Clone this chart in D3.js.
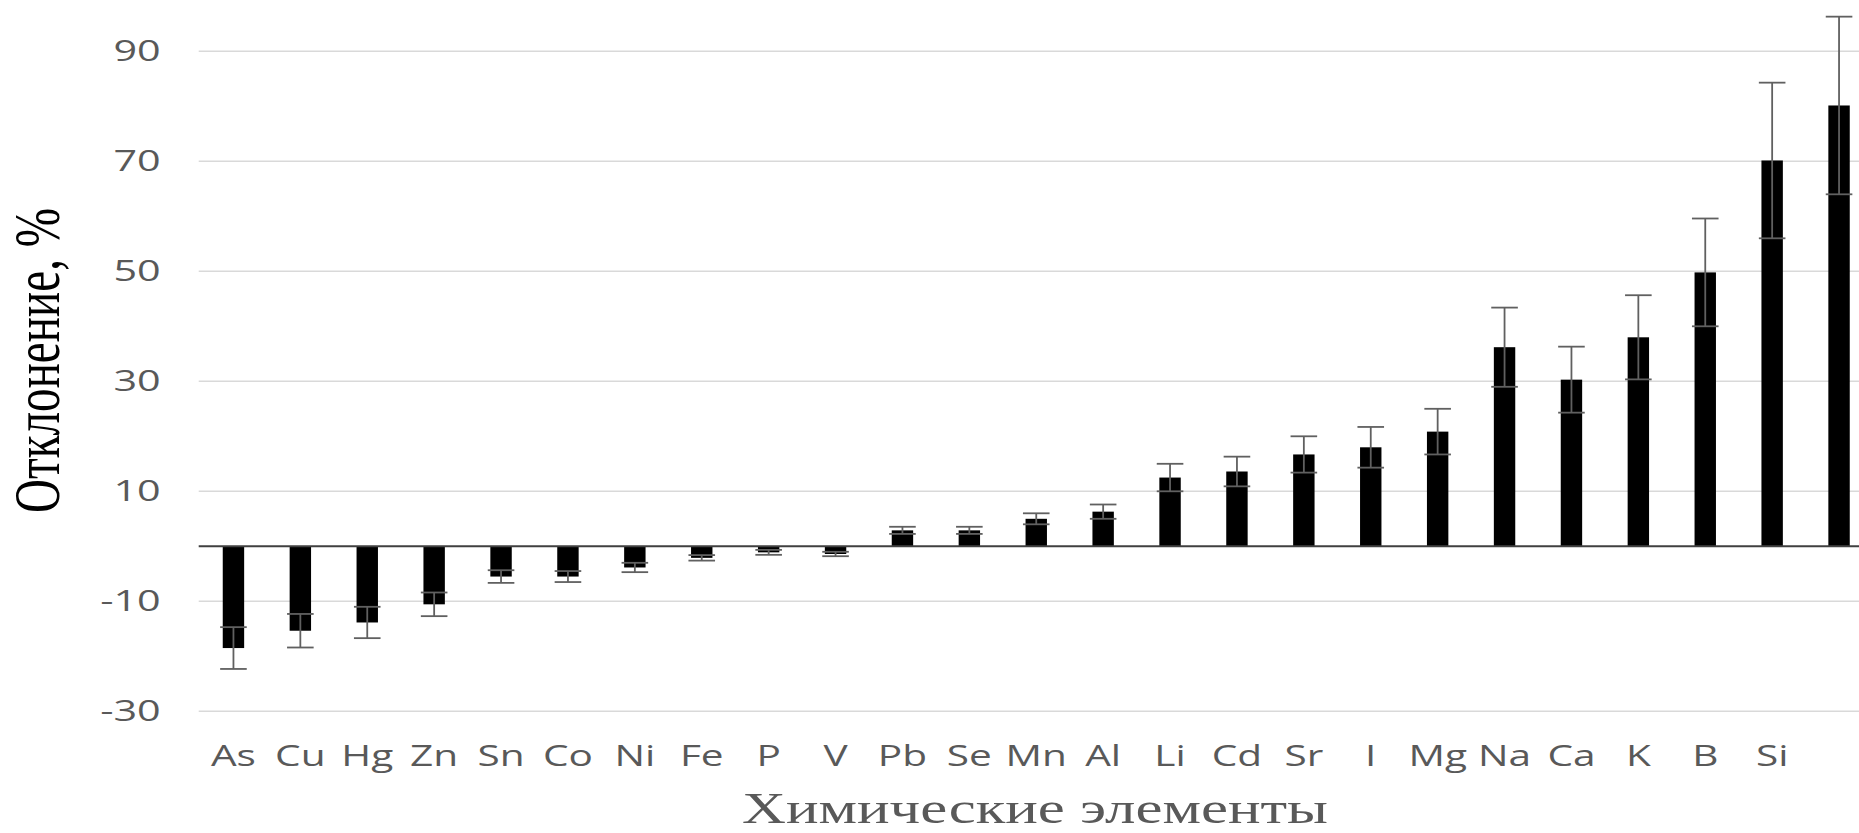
<!DOCTYPE html>
<html>
<head>
<meta charset="utf-8">
<script src="https://cdn.jsdelivr.net/npm/d3@7"></script>
<style>
    body { margin: 0; background: #fff; }
    svg { display: block; }
</style>
</head>
<body>
<div id="chart"></div>
<script>
// element labels (last one is cut off in the source picture)
const elements = ["As", "Cu", "Hg", "Zn", "Sn", "Co", "Ni", "Fe", "P", "V", "Pb", "Se", "Mn",
    "Al", "Li", "Cd", "Sr", "I", "Mg", "Na", "Ca", "K", "B", "Si", ""];
// deviation, %
const deviation = [-18.5, -15.35, -13.85, -10.55, -5.5, -5.5, -3.85, -2.1, -1.1, -1.4, 2.9, 2.9, 5.0,
    6.3, 12.5, 13.6, 16.7, 18.0, 20.85, 36.2, 30.3, 38.0, 49.8, 70.15, 80.15];
// error bar half-widths
const errors = [3.8, 3.05, 2.85, 2.15, 1.15, 1.0, 0.85, 0.5, 0.45, 0.4, 0.65, 0.65, 1.0,
    1.3, 2.5, 2.7, 3.3, 3.7, 4.15, 7.2, 6.0, 7.65, 9.8, 14.15, 16.15];
const yTicks = [-30, -10, 10, 30, 50, 70, 90];

const W = 1859, H = 833;
const plotLeft = 198.7;

const data = elements.map(function (e, i) {
    return { el: e, value: deviation[i], err: errors[i] };
});

const svg = d3.select("#chart").append("svg")
    .attr("width", W)
    .attr("height", H);

const x = d3.scaleBand()
    .domain(elements)
    .range([200, 1872.5])
    .paddingInner(0.68)
    .paddingOuter(0.34);

const y = d3.scaleLinear()
    .domain([-30, 90])
    .range([711.3, 51.3]);

// gridlines
svg.append("g")
    .selectAll("line")
    .data(yTicks)
    .join("line")
    .attr("x1", plotLeft)
    .attr("x2", W)
    .attr("y1", d => y(d))
    .attr("y2", d => y(d))
    .attr("stroke", "#d9d9d9")
    .attr("stroke-width", 1.5);

// y axis labels (plain hyphen for negatives, like the original)
const yAxis = svg.append("g")
    .attr("transform", "translate(" + plotLeft + ",0)")
    .call(d3.axisLeft(y).tickValues(yTicks).tickSize(0).tickFormat(d => String(d)));
yAxis.select(".domain").remove();
yAxis.selectAll("text")
    .attr("x", 0)
    .attr("transform", "translate(-38,0) scale(1.4,1)")
    .style("font-family", "'Open Sans', sans-serif")
    .style("font-size", "29.5px")
    .attr("fill", "#595959");

// bars
svg.append("g")
    .selectAll("rect")
    .data(data)
    .join("rect")
    .attr("x", d => x(d.el))
    .attr("width", x.bandwidth())
    .attr("y", d => Math.min(y(0), y(d.value)))
    .attr("height", d => Math.abs(y(d.value) - y(0)))
    .attr("fill", "#000");

// zero line
svg.append("line")
    .attr("x1", plotLeft)
    .attr("x2", W)
    .attr("y1", y(0))
    .attr("y2", y(0))
    .attr("stroke", "#404040")
    .attr("stroke-width", 2);

// error bars
const capHalf = 13.3;
const eb = svg.append("g")
    .attr("stroke", "#606060")
    .attr("stroke-width", 1.8)
    .selectAll("g")
    .data(data)
    .join("g")
    .attr("transform", d => "translate(" + (x(d.el) + x.bandwidth() / 2) + ",0)");
eb.append("line")
    .attr("y1", d => y(d.value - d.err))
    .attr("y2", d => y(d.value + d.err));
eb.append("line")
    .attr("x1", -capHalf).attr("x2", capHalf)
    .attr("y1", d => y(d.value + d.err))
    .attr("y2", d => y(d.value + d.err));
eb.append("line")
    .attr("x1", -capHalf).attr("x2", capHalf)
    .attr("y1", d => y(d.value - d.err))
    .attr("y2", d => y(d.value - d.err));

// x axis labels
const xAxis = svg.append("g")
    .call(d3.axisBottom(x).tickSize(0));
xAxis.select(".domain").remove();
xAxis.selectAll("text")
    .attr("y", 765.7)
    .attr("dy", 0)
    .attr("transform", "scale(1.4,1)")
    .style("font-family", "'Open Sans', sans-serif")
    .style("font-size", "29px")
    .attr("fill", "#595959");

// axis titles
svg.append("text")
    .attr("x", 1035)
    .attr("y", 823)
    .attr("text-anchor", "middle")
    .attr("textLength", 586)
    .attr("lengthAdjust", "spacingAndGlyphs")
    .style("font-family", "'Liberation Serif', serif")
    .style("font-size", "44px")
    .attr("fill", "#595959")
    .text("Химические элементы");

svg.append("text")
    .attr("transform", "translate(59,360.5) rotate(-90)")
    .attr("text-anchor", "middle")
    .attr("textLength", 305)
    .attr("lengthAdjust", "spacingAndGlyphs")
    .style("font-family", "'Liberation Serif', serif")
    .style("font-size", "66px")
    .attr("fill", "#000")
    .text("Отклонение, %");
</script>
</body>
</html>
